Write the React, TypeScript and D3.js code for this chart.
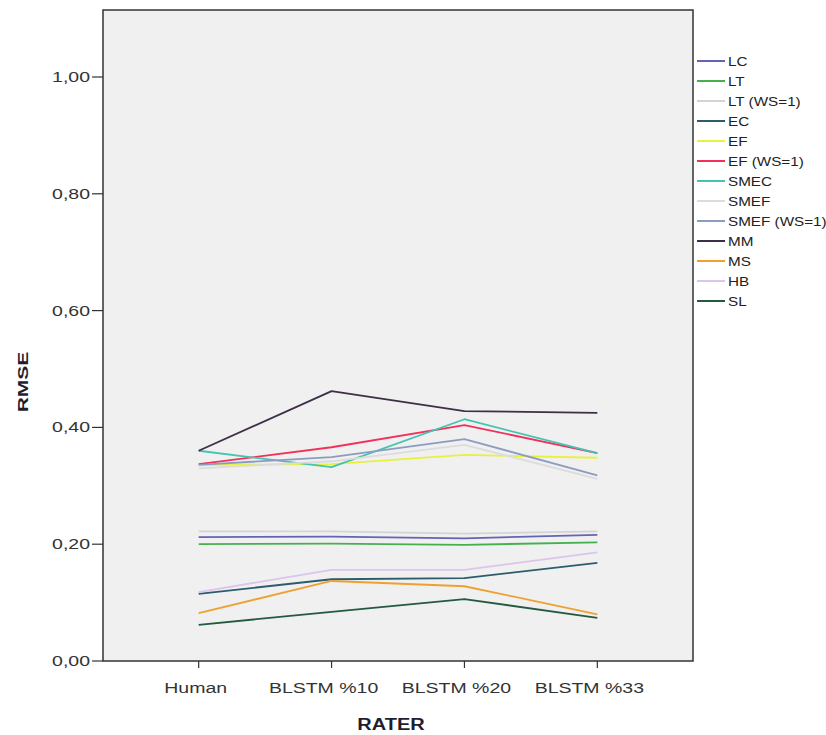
import { line, scaleLinear, scalePoint, format } from "d3";

const raters = ["Human", "BLSTM %10", "BLSTM %20", "BLSTM %33"];
const yTicks = [0, 0.2, 0.4, 0.6, 0.8, 1.0];

const seriesNames = [
  "LC", "LT", "LT (WS=1)", "EC", "EF", "EF (WS=1)", "SMEC",
  "SMEF", "SMEF (WS=1)", "MM", "MS", "HB", "SL",
];
const seriesColors = [
  "#6464b4", "#46b050", "#d4d4d4", "#2c5c6c", "#e8f040", "#f2305a", "#44c4b0",
  "#dcdcdc", "#8c9cc0", "#3e2e48", "#f0a030", "#dcc4ec", "#245a40",
];
// RMSE per rater, same order as raters
const LC = [0.212, 0.213, 0.21, 0.216];
const LT = [0.2, 0.201, 0.199, 0.203];
const LT_WS1 = [0.222, 0.222, 0.218, 0.222];
const EC = [0.115, 0.14, 0.142, 0.168];
const EF = [0.336, 0.337, 0.353, 0.348];
const EF_WS1 = [0.337, 0.366, 0.404, 0.356];
const SMEC = [0.36, 0.332, 0.414, 0.356];
const SMEF = [0.33, 0.342, 0.37, 0.312];
const SMEF_WS1 = [0.336, 0.349, 0.38, 0.318];
const MM = [0.36, 0.462, 0.428, 0.425];
const MS = [0.082, 0.137, 0.128, 0.08];
const HB = [0.118, 0.156, 0.156, 0.186];
const SL = [0.062, 0.084, 0.106, 0.074];
const seriesValues = [LC, LT, LT_WS1, EC, EF, EF_WS1, SMEC, SMEF, SMEF_WS1, MM, MS, HB, SL];

const font = "Arial, 'Liberation Sans', sans-serif";

// the source image is stretched sideways, so text is widened with a scale
function Label({ x, y, sx = 1.35, anchor = "start", children, ...rest }: any) {
  return (
    <text transform={`translate(${x},${y}) scale(${sx},1)`} textAnchor={anchor} {...rest}>
      {children}
    </text>
  );
}

export default function App() {
  const width = 826;
  const height = 735;
  const left = 103, right = 693, top = 10, bottom = 661;

  const x = scalePoint<string>().domain(raters).range([left, right]).padding(0.72);
  const y = scaleLinear().domain([0, 1]).range([bottom, 77]);
  const fmt = (v: number) => format(".2f")(v).replace(".", ",");
  const path = line<number>()
    .x((_, i) => x(raters[i]) as number)
    .y((d) => y(d));

  return (
    <svg width={width} height={height} style={{ position: "absolute", left: 0, top: 0, background: "#fff" }}>
      <rect x={left} y={top} width={right - left} height={bottom - top} fill="#f0f0f0" />

      <g fill="none" strokeWidth={1.8} strokeLinejoin="round">
        {seriesValues.map((vals, i) => (
          <path key={seriesNames[i]} d={path(vals) ?? ""} stroke={seriesColors[i]} />
        ))}
      </g>

      <rect x={left} y={top} width={right - left} height={bottom - top} fill="none" stroke="#333" strokeWidth={1.5} />

      {/* y axis */}
      <g fontFamily={font} fontSize={15} fill="#333">
        {yTicks.map((t) => (
          <g key={t}>
            <line x1={left - 11} x2={left} y1={y(t)} y2={y(t)} stroke="#333" strokeWidth={1.2} />
            <Label x={left - 13} y={y(t) + 5} anchor="end" sx={1.3}>{fmt(t)}</Label>
          </g>
        ))}
      </g>
      <text transform={`translate(28,382) rotate(-90) scale(1.4,1)`} textAnchor="middle"
        fontFamily={font} fontSize={15} fontWeight="bold" fill="#1e1e30">RMSE</text>

      {/* x axis */}
      <g fontFamily={font} fontSize={15} fill="#333">
        {raters.map((r, i) => (
          <g key={r}>
            <line x1={x(r)} x2={x(r)} y1={bottom} y2={bottom + 7} stroke="#333" strokeWidth={1.2} />
            <Label x={(x(r) as number) - (i === 0 ? 3 : 8)} y={bottom + 32} anchor="middle" sx={1.3}>{r}</Label>
          </g>
        ))}
      </g>
      <Label x={(left + right) / 2 - 7} y={730} anchor="middle" sx={1.25}
        fontFamily={font} fontSize={16} fontWeight="bold" fill="#1e1e30">RATER</Label>

      {/* legend */}
      <g fontFamily={font} fontSize={13.5} fill="#222">
        {seriesNames.map((n, i) => (
          <g key={n} transform={`translate(697,${61 + i * 20})`}>
            <line x1={0} x2={28} y1={0} y2={0} stroke={seriesColors[i]} strokeWidth={2} />
            <Label x={31} y={5} sx={1.13}>{n}</Label>
          </g>
        ))}
      </g>
    </svg>
  );
}
